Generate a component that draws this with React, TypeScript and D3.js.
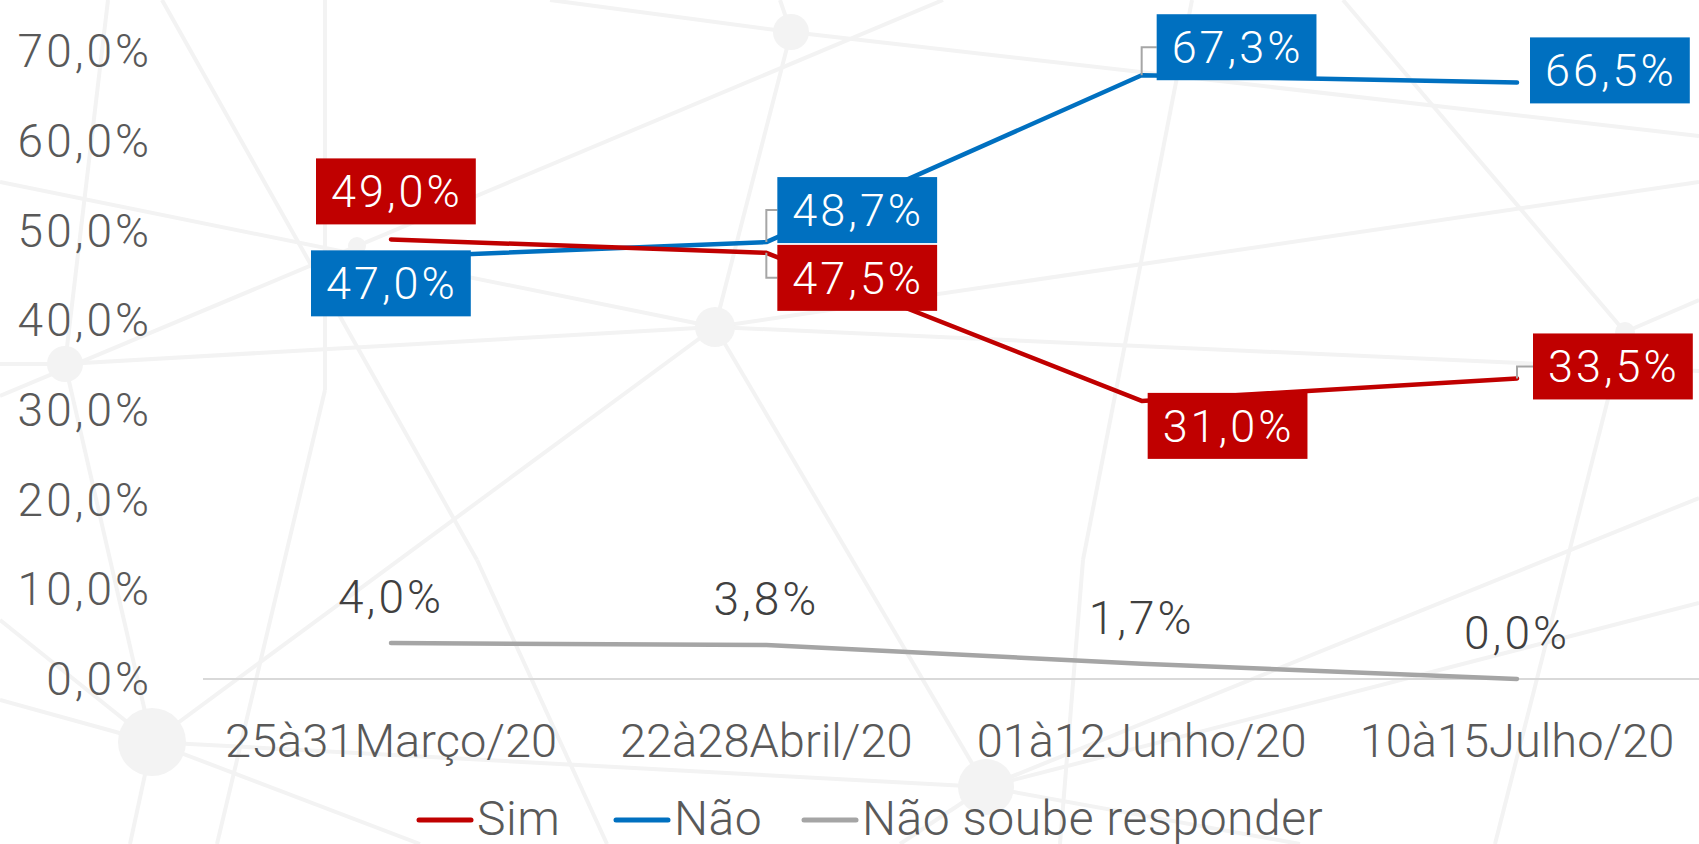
import { useEffect, useRef } from "react";
import * as d3 from "d3";

// Survey waves
const categories = ["25à31Março/20", "22à28Abril/20", "01à12Junho/20", "10à15Julho/20"];

// Series values (%)
const simValues = [49.0, 47.5, 31.0, 33.5];
const naoValues = [47.0, 48.7, 67.3, 66.5];
const naoSoubeValues = [4.0, 3.8, 1.7, 0.0];

const seriesNames = ["Sim", "Não", "Não soube responder"];
const seriesColors = ["#C00000", "#0070C0", "#A5A5A5"];

const yTicks = [0, 10, 20, 30, 40, 50, 60, 70];

// Label box placement relative to its point (left/top offset, leader line or not)
const simLabelPlacement = [
	{ dx: -75, dy: -81, leader: false },
	{ dx: 11, dy: -8, leader: true },
	{ dx: 6, dy: -8, leader: false },
	{ dx: 16, dy: -45, leader: true },
];
const naoLabelPlacement = [
	{ dx: -80, dy: -7, leader: false },
	{ dx: 11, dy: -65, leader: true },
	{ dx: 15, dy: -61, leader: true },
	{ dx: 13, dy: -45, leader: false },
];

// Decorative network pattern behind the chart
const bgNodes: [number, number, number][] = [
	[791, 32, 18], [715, 327, 20], [65, 364, 18], [357, 246, 9], [152, 742, 34], [986, 787, 28], [1625, 332, 10],
];
const bgEdges: [number, number, number, number][] = [
	[0, 182, 715, 327], [65, 364, 715, 327], [715, 327, 1699, 371], [0, 364, 65, 364],
	[108, 0, 65, 364], [65, 364, 152, 742], [152, 742, 130, 844],
	[325, 0, 325, 390], [325, 390, 217, 844],
	[162, 0, 477, 560], [477, 560, 607, 844],
	[550, 0, 791, 32], [791, 32, 1699, 136], [780, 0, 791, 32], [791, 32, 715, 327],
	[943, 0, 0, 396], [715, 327, 1699, 182],
	[1192, 0, 1083, 560], [1083, 560, 1060, 844],
	[1343, 0, 1625, 332], [1625, 332, 1495, 844], [1625, 332, 1699, 300],
	[715, 327, 986, 787], [715, 327, 152, 742],
	[152, 742, 986, 787], [0, 700, 152, 742], [0, 620, 152, 742], [152, 742, 420, 844],
	[986, 787, 1699, 603], [986, 787, 1699, 498], [986, 787, 1300, 844], [986, 787, 900, 844],
];

export default function App() {
	const ref = useRef<SVGSVGElement>(null);

	useEffect(() => {
		const svg = d3.select(ref.current);
		svg.selectAll("*").remove();

		const width = 1699;
		const height = 844;
		const font = "Roboto, 'Noto Sans', sans-serif";

		// Background
		svg.append("rect").attr("width", width).attr("height", height).attr("fill", "#ffffff");
		const bg = svg.append("g");
		bg.selectAll("line")
			.data(bgEdges)
			.enter()
			.append("line")
			.attr("x1", d => d[0])
			.attr("y1", d => d[1])
			.attr("x2", d => d[2])
			.attr("y2", d => d[3])
			.attr("stroke", "#f3f3f3")
			.attr("stroke-width", 4);
		bg.selectAll("circle")
			.data(bgNodes)
			.enter()
			.append("circle")
			.attr("cx", d => d[0])
			.attr("cy", d => d[1])
			.attr("r", d => d[2])
			.attr("fill", "#f3f3f3");

		// Scales
		const x = d3.scalePoint<string>()
			.domain(categories)
			.range([391, 1517]);

		const y = d3.scaleLinear()
			.domain([0, 70])
			.range([679, 51]);

		// Y tick labels
		svg.append("g")
			.selectAll("text")
			.data(yTicks)
			.enter()
			.append("text")
			.attr("x", 152)
			.attr("y", d => y(d))
			.attr("dy", "0.35em")
			.attr("text-anchor", "end")
			.attr("font-family", font)
			.attr("font-weight", 300)
			.attr("font-size", 46)
			.attr("letter-spacing", 3)
			.attr("fill", "#595959")
			.text(d => d.toFixed(1).replace(".", ",") + "%");

		// Baseline
		svg.append("line")
			.attr("x1", 203)
			.attr("x2", width)
			.attr("y1", y(0))
			.attr("y2", y(0))
			.attr("stroke", "#d9d9d9")
			.attr("stroke-width", 2);

		// X labels
		svg.append("g")
			.selectAll("text")
			.data(categories)
			.enter()
			.append("text")
			.attr("x", d => x(d)!)
			.attr("y", 741)
			.attr("dy", "0.35em")
			.attr("text-anchor", "middle")
			.attr("font-family", font)
			.attr("font-weight", 300)
			.attr("font-size", 47)
			.attr("fill", "#595959")
			.text(d => d);

		const line = d3.line<number>()
			.x((_, i) => x(categories[i])!)
			.y(d => y(d));

		const allSeries = [simValues, naoValues, naoSoubeValues];

		// Lines (gray first, then blue, then red on top)
		[2, 1, 0].forEach(s => {
			svg.append("path")
				.datum(allSeries[s])
				.attr("d", line)
				.attr("fill", "none")
				.attr("stroke", seriesColors[s])
				.attr("stroke-width", 4.5)
				.attr("stroke-linecap", "round")
				.attr("stroke-linejoin", "round");
		});

		// Plain labels for "Não soube responder"
		svg.append("g")
			.selectAll("text")
			.data(naoSoubeValues)
			.enter()
			.append("text")
			.attr("x", (_, i) => x(categories[i])!)
			.attr("y", d => y(d) - 46)
			.attr("dy", "0.35em")
			.attr("text-anchor", "middle")
			.attr("font-family", font)
			.attr("font-weight", 300)
			.attr("font-size", 46)
			.attr("letter-spacing", 3)
			.attr("fill", "#404040")
			.text(d => d.toFixed(1).replace(".", ",") + "%");

		// Boxed labels
		const boxH = 66;
		const drawBoxed = (values: number[], placement: typeof simLabelPlacement, color: string) => {
			values.forEach((v, i) => {
				const px = x(categories[i])!;
				const py = y(v);
				const p = placement[i];
				const bx = px + p.dx;
				const by = py + p.dy;

				if (p.leader) {
					svg.append("path")
						.attr("d", `M${px},${py}V${by + boxH / 2}H${bx}`)
						.attr("fill", "none")
						.attr("stroke", "#a6a6a6")
						.attr("stroke-width", 2);
				}

				const g = svg.append("g");
				const rect = g.append("rect").attr("fill", color);
				const t = g.append("text")
					.attr("x", bx + 15)
					.attr("y", by + boxH / 2)
					.attr("dy", "0.35em")
					.attr("font-family", font)
					.attr("font-weight", 300)
					.attr("font-size", 45)
					.attr("letter-spacing", 3)
					.attr("fill", "#ffffff")
					.text(v.toFixed(1).replace(".", ",") + "%");
				const tw = (t.node() as SVGTextElement).getComputedTextLength();
				rect.attr("x", bx)
					.attr("y", by)
					.attr("width", tw + 28)
					.attr("height", boxH);
			});
		};
		drawBoxed(naoValues, naoLabelPlacement, seriesColors[1]);
		drawBoxed(simValues, simLabelPlacement, seriesColors[0]);

		// Legend
		const legendX = [419, 616, 804];
		const legend = svg.append("g");
		seriesNames.forEach((name, i) => {
			legend.append("line")
				.attr("x1", legendX[i])
				.attr("x2", legendX[i] + 52)
				.attr("y1", 820)
				.attr("y2", 820)
				.attr("stroke", seriesColors[i])
				.attr("stroke-width", 5)
				.attr("stroke-linecap", "round");
			legend.append("text")
				.attr("x", legendX[i] + 58)
				.attr("y", 818)
				.attr("dy", "0.35em")
				.attr("font-family", font)
				.attr("font-weight", 300)
				.attr("font-size", 48)
				.attr("letter-spacing", 0.5)
				.attr("fill", "#595959")
				.text(name);
		});
	}, []);

	return (
		<svg
			ref={ref}
			width={1699}
			height={844}
			style={{ position: "fixed", left: 0, top: 0, display: "block" }}
		/>
	);
}
